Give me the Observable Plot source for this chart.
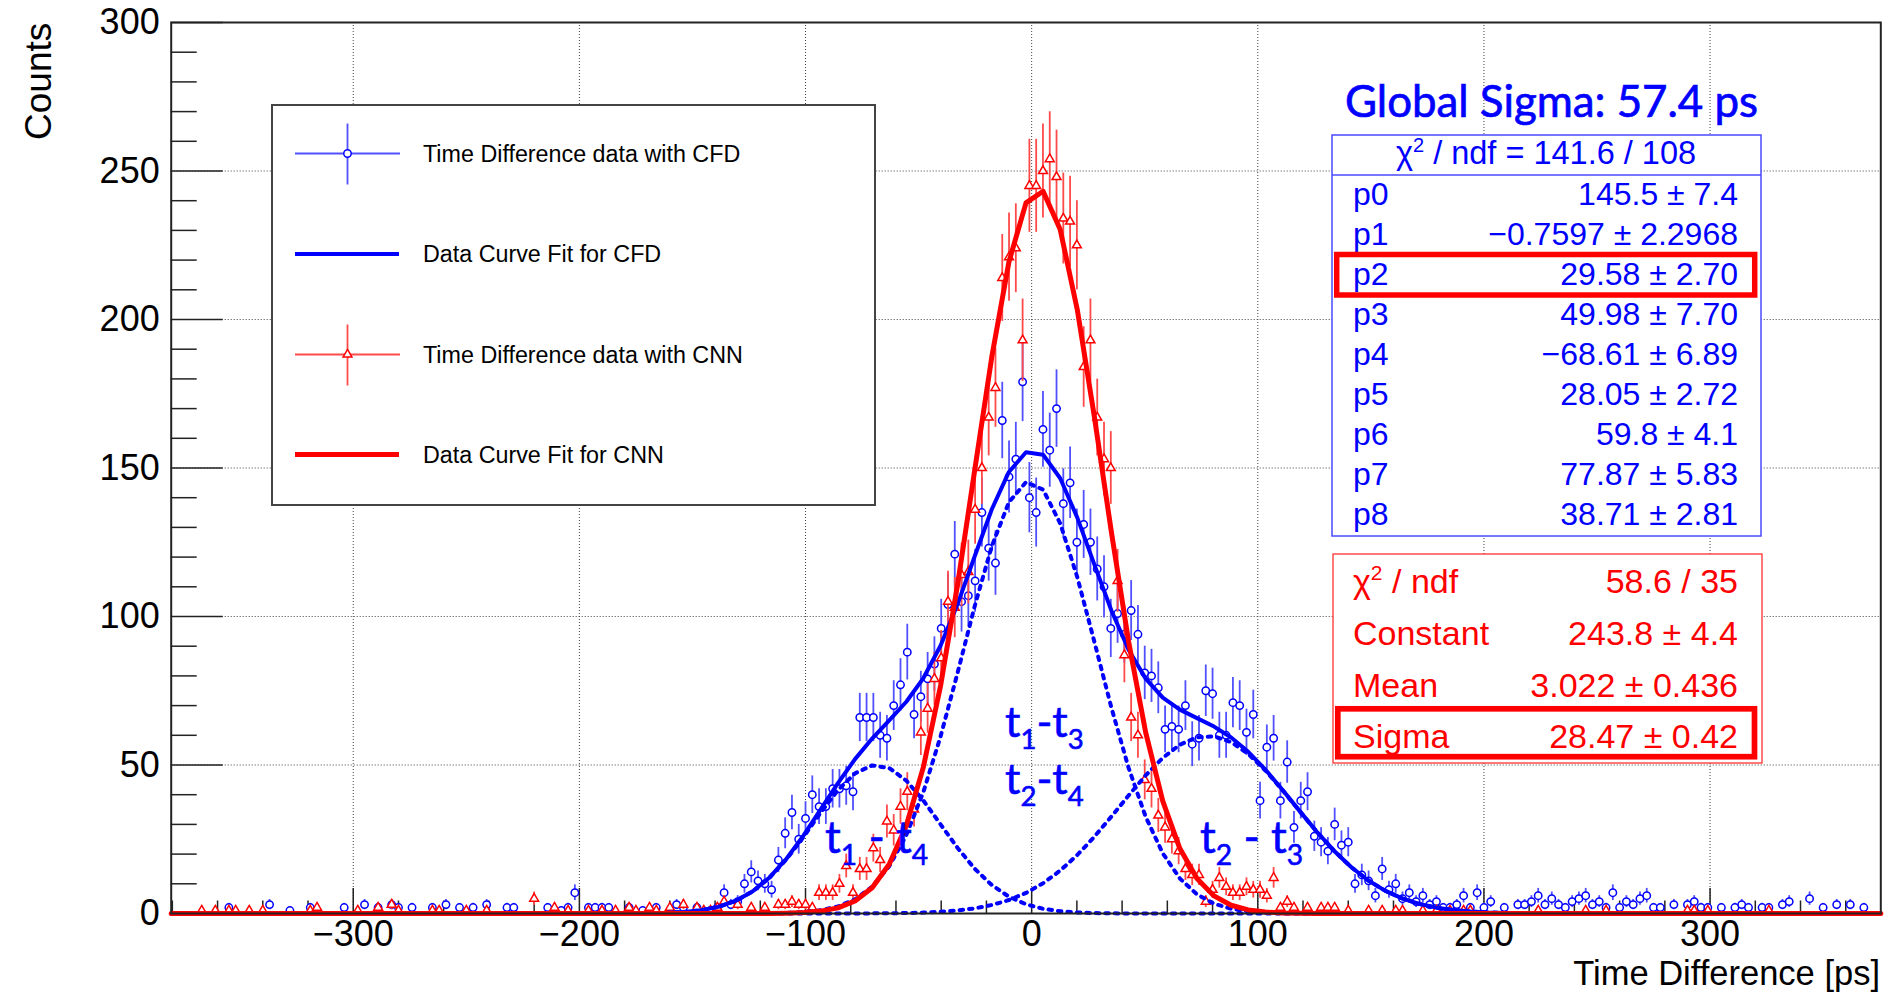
<!DOCTYPE html>
<html>
<head>
<meta charset="utf-8">
<script src="https://cdn.jsdelivr.net/npm/d3@7"></script>
<script src="https://cdn.jsdelivr.net/npm/@observablehq/plot@0.6"></script>
<style>
html, body { margin: 0; padding: 0; background: #fff; }
#chart { width: 1895px; height: 993px; overflow: hidden; }
</style>
</head>
<body>
<div id="chart"></div>
<script>
// ---------------- DATA ----------------
// histogram binning (3 ps bins, first bin centre -379 ps)
const binStart = -379;
const binWidth = 3;
const xRange = [-380.5, 375.5];

// Time Difference data with CFD (counts per bin)
const cfdCounts = [
  0,0,0,0,0,0,0,0,2,0,0,0,
  0,0,3,0,0,1,0,0,2,0,0,0,
  0,2,0,0,3,0,2,0,3,2,0,2,
  0,0,2,0,3,0,2,0,2,0,3,0,
  0,2,2,0,0,0,0,2,0,1,2,7,
  0,2,2,2,2,0,0,2,0,1,0,2,
  0,0,3,2,0,2,0,1,2,7,3,4,
  10,14,11,10,8,18,27,34,25,32,40,36,
  36,42,42,43,41,66,66,66,60,59,70,77,
  88,67,73,79,84,96,104,121,105,107,112,135,
  123,118,166,147,153,179,140,135,163,156,170,138,
  145,125,131,125,116,110,96,101,94,102,94,81,
  80,76,62,63,62,70,57,59,75,74,60,60,
  71,70,61,67,38,56,59,38,51,29,38,41,
  26,24,21,30,23,24,10,13,11,6,15,8,
  10,5,7,4,6,3,4,2,2,3,6,2,
  7,2,4,0,2,0,3,3,4,6,3,5,
  3,2,4,5,6,3,4,2,7,2,4,3,
  5,6,2,2,0,3,0,3,4,2,2,0,
  2,0,2,3,2,0,2,2,0,3,4,0,
  0,5,0,2,0,3,0,3,0,2,0,0
];

// Time Difference data with CNN (counts per bin)
const cnnCounts = [
  0,0,0,0,1,0,1,0,1,1,0,1,
  0,1,0,0,0,0,0,0,1,2,0,0,
  0,0,0,1,0,0,2,0,3,1,0,0,
  0,0,1,1,0,0,0,1,0,0,1,0,
  0,0,0,0,0,5,0,0,2,0,1,0,
  0,1,0,1,0,1,0,2,1,0,2,1,
  0,2,0,3,0,2,1,1,2,4,0,3,
  0,2,0,2,0,3,3,4,3,3,2,7,
  7,7,10,16,7,15,15,22,18,31,28,36,
  41,35,61,69,79,86,105,103,114,115,136,150,
  167,177,214,221,224,193,245,245,250,254,248,234,
  233,225,184,193,167,153,150,112,87,66,60,45,
  42,33,29,25,21,15,13,13,4,8,12,9,
  7,7,9,8,8,6,12,2,4,2,0,2,
  0,2,2,2,0,1,0,0,1,0,1,0,
  1,1,0,0,1,0,1,0,1,0,1,1,
  0,0,0,0,0,0,0,0,0,1,0,0,
  0,0,0,0,1,0,0,1,0,0,0,0,
  0,0,0,0,0,0,0,1,1,0,1,0,
  0,0,0,0,0,0,0,1,0,0,0,0,
  0,0,0,0,0,0,0,0,0,0,0,0
];

// fit parameters printed in the statistics boxes
const cfdFitParams = [145.5, -0.7597, 29.58, 49.98, -68.61, 28.05, 59.8, 77.87, 38.71];
const cnnFitParams = [243.8, 3.022, 28.47];

// axis ticks
const xMajorTicks = [-300, -200, -100, 0, 100, 200, 300];
const yMajorTicks = [0, 50, 100, 150, 200, 250, 300];
const xGrid = [-300, -200, -100, 0, 100, 200, 300];
const yGrid = [50, 100, 150, 200, 250];

// texts
const legendLabels = ["Time Difference data with CFD", "Data Curve Fit for CFD", "Time Difference data with CNN", "Data Curve Fit for CNN"];
const cfdStatNames = ["p0","p1","p2","p3","p4","p5","p6","p7","p8"];
const cfdStatValues = ["145.5 \u00b1 7.4","\u22120.7597 \u00b1 2.2968","29.58 \u00b1 2.70","49.98 \u00b1 7.70","\u221268.61 \u00b1 6.89","28.05 \u00b1 2.72","59.8 \u00b1 4.1","77.87 \u00b1 5.83","38.71 \u00b1 2.81"];
const cnnStatNames = ["Constant","Mean","Sigma"];
const cnnStatValues = ["243.8 \u00b1 4.4","3.022 \u00b1 0.436","28.47 \u00b1 0.42"];

// ---------------- BUILD ----------------
const W = 1895, H = 993, mL = 170.7, mR = 14.7, mT = 22, mB = 80;
const pxPerCount = (H - mT - mB) / 300;
const pxPerPs = (W - mL - mR) / (xRange[1] - xRange[0]);

const centers = cfdCounts.map((_, i) => binStart + i * binWidth);
const cfdPts = centers.map((x, i) => ({x, n: cfdCounts[i]})).filter(d => d.n > 0);
const cnnPts = centers.map((x, i) => ({x, n: cnnCounts[i]})).filter(d => d.n > 0);

const gauss = (x, A, m, s) => A * Math.exp(-0.5 * ((x - m) / s) ** 2);
const fitX = d3.range(101).map(k => xRange[0] + k * (xRange[1] - xRange[0]) / 100);
const P = cfdFitParams, Q = cnnFitParams;
const g1 = fitX.map(x => ({x, y: gauss(x, P[0], P[1], P[2])}));
const g2 = fitX.map(x => ({x, y: gauss(x, P[3], P[4], P[5])}));
const g3 = fitX.map(x => ({x, y: gauss(x, P[6], P[7], P[8])}));
const gSum = fitX.map((x, k) => ({x, y: g1[k].y + g2[k].y + g3[k].y}));
const gCnn = fitX.map(x => ({x, y: gauss(x, Q[0], Q[1], Q[2])}));

const xMinorTicks = d3.range(-380, 376, 20).filter(v => v % 100 !== 0);
const yMinorTicks = d3.range(0, 301, 10).filter(v => v % 50 !== 0);
const fmt = v => v < 0 ? "\u2212" + Math.abs(v) : String(v);

const BLUE = "#0000ff", BLUE_ERR = "#5050ff", RED = "#ff0000", RED_ERR = "#ff4a4a";
const DOTS = "3.5,6";

const svg = Plot.plot({
  width: W, height: H,
  marginLeft: mL, marginRight: mR, marginTop: mT, marginBottom: mB,
  x: {domain: xRange, axis: null},
  y: {domain: [0, 300], axis: null},
  style: {fontFamily: "'Liberation Sans', Arial, sans-serif", background: "white", color: "black", overflow: "visible"},
  marks: [
    // grid
    Plot.ruleX(xGrid, {x: d => d, stroke: "#444", strokeWidth: 1, strokeDasharray: "1,2"}),
    Plot.ruleY(yGrid, {y: d => d, stroke: "#444", strokeWidth: 1, strokeDasharray: "1,2"}),
    // ticks (inside the frame)
    Plot.ruleX(xMajorTicks, {x: d => d, y1: 0, y2: 25 / pxPerCount, stroke: "#222", strokeWidth: 1.5}),
    Plot.ruleX(xMinorTicks, {x: d => d, y1: 0, y2: 12.5 / pxPerCount, stroke: "#222", strokeWidth: 1.5}),
    Plot.ruleY(yMajorTicks, {y: d => d, x1: xRange[0], x2: xRange[0] + 52 / pxPerPs, stroke: "#222", strokeWidth: 1.5}),
    Plot.ruleY(yMinorTicks, {y: d => d, x1: xRange[0], x2: xRange[0] + 26 / pxPerPs, stroke: "#222", strokeWidth: 1.5}),
    // tick labels
    Plot.text(xMajorTicks, {x: d => d, y: 0, dy: 21, text: fmt, fontSize: 36, fill: "black"}),
    Plot.text(yMajorTicks, {x: xRange[0], y: d => d, dx: -11.5, text: fmt, textAnchor: "end", fontSize: 36, fill: "black"}),
    // CFD data
    Plot.ruleX(cfdPts, {x: "x", y1: d => d.n - Math.sqrt(d.n), y2: d => d.n + Math.sqrt(d.n), stroke: BLUE_ERR, strokeWidth: 1.8}),
    Plot.dot(cfdPts, {x: "x", y: "n", r: 3.7, stroke: BLUE, fill: "white", strokeWidth: 1.5}),
    // CNN data
    Plot.ruleX(cnnPts, {x: "x", y1: d => d.n - Math.sqrt(d.n), y2: d => d.n + Math.sqrt(d.n), stroke: RED_ERR, strokeWidth: 1.8}),
    Plot.dot(cnnPts, {x: "x", y: "n", r: 3.3, symbol: "triangle", stroke: RED, fill: "white", strokeWidth: 1.5}),
    // fit components (dotted)
    Plot.line(g1, {x: "x", y: "y", stroke: BLUE, strokeWidth: 4, strokeDasharray: DOTS}),
    Plot.line(g2, {x: "x", y: "y", stroke: BLUE, strokeWidth: 4, strokeDasharray: DOTS}),
    Plot.line(g3, {x: "x", y: "y", stroke: BLUE, strokeWidth: 4, strokeDasharray: DOTS}),
    // total fits
    Plot.line(gSum, {x: "x", y: "y", stroke: BLUE, strokeWidth: 4}),
    Plot.line(gCnn, {x: "x", y: "y", stroke: RED, strokeWidth: 5}),
    Plot.frame({stroke: "#222", strokeWidth: 2})
  ]
});
document.getElementById("chart").append(svg);

// ---------------- ANNOTATIONS ----------------
const s = d3.select(svg);
const ROOTFONT = "'Liberation Sans', Arial, sans-serif";
const CALI = "Lato, 'Open Sans', sans-serif";
const txt = (g, x, y, size, fill, anchor, font) => g.append("text").attr("x", x).attr("y", y)
  .attr("font-family", font || ROOTFONT).attr("font-size", size).attr("fill", fill)
  .attr("text-anchor", anchor || "start");

// axis titles
s.append("text").attr("transform", "translate(51,22.7) rotate(-90)").attr("text-anchor", "end")
  .attr("font-family", ROOTFONT).attr("font-size", 37).attr("fill", "black").text("Counts");
txt(s, 1880, 985, 34.5, "black", "end").text("Time Difference [ps]");

// legend
const lg = s.append("g");
lg.append("rect").attr("x", 272).attr("y", 105).attr("width", 603).attr("height", 400)
  .attr("fill", "white").attr("stroke", "#444").attr("stroke-width", 2);
const rowsY = [153.5, 254, 354.5, 454.5];
legendLabels.forEach((t, i) => txt(lg, 423, rowsY[i] + 8, 23.3, "black", "start").text(t));
// CFD data symbol
lg.append("line").attr("x1", 295).attr("x2", 400).attr("y1", rowsY[0]).attr("y2", rowsY[0]).attr("stroke", BLUE_ERR).attr("stroke-width", 1.8);
lg.append("line").attr("x1", 347.5).attr("x2", 347.5).attr("y1", rowsY[0] - 30).attr("y2", rowsY[0] + 31).attr("stroke", BLUE_ERR).attr("stroke-width", 1.8);
lg.append("circle").attr("cx", 347.5).attr("cy", rowsY[0]).attr("r", 3.7).attr("fill", "white").attr("stroke", BLUE).attr("stroke-width", 1.5);
// CFD fit symbol
lg.append("line").attr("x1", 295).attr("x2", 399).attr("y1", rowsY[1]).attr("y2", rowsY[1]).attr("stroke", BLUE).attr("stroke-width", 4);
// CNN data symbol
lg.append("line").attr("x1", 295).attr("x2", 400).attr("y1", rowsY[2]).attr("y2", rowsY[2]).attr("stroke", RED_ERR).attr("stroke-width", 1.8);
lg.append("line").attr("x1", 347.5).attr("x2", 347.5).attr("y1", rowsY[2] - 30).attr("y2", rowsY[2] + 31).attr("stroke", RED_ERR).attr("stroke-width", 1.8);
lg.append("path").attr("d", d3.symbol(d3.symbolTriangle, 34)()).attr("transform", `translate(347.5,${rowsY[2]})`)
  .attr("fill", "white").attr("stroke", RED).attr("stroke-width", 1.5);
// CNN fit symbol
lg.append("line").attr("x1", 295).attr("x2", 399).attr("y1", rowsY[3]).attr("y2", rowsY[3]).attr("stroke", RED).attr("stroke-width", 5);

// Global sigma title
txt(s, 1345, 116.5, 44, BLUE, "start", CALI)
  .attr("stroke", BLUE).attr("stroke-width", 0.7)
  .attr("textLength", 413).attr("lengthAdjust", "spacingAndGlyphs").text("Global Sigma: 57.4 ps");

// CFD stats box
const sb = s.append("g");
sb.append("rect").attr("x", 1332).attr("y", 135).attr("width", 429).attr("height", 401)
  .attr("fill", "white").attr("stroke", "#4a4aff").attr("stroke-width", 1.5);
sb.append("line").attr("x1", 1332).attr("x2", 1761).attr("y1", 175).attr("y2", 175).attr("stroke", "#4a4aff").attr("stroke-width", 1.5);
const hdr = txt(sb, 1546, 164, 32.5, BLUE, "middle");
hdr.append("tspan").text("\u03c7");
hdr.append("tspan").attr("dy", -12).attr("font-size", 20).text("2");
hdr.append("tspan").attr("dy", 12).text(" / ndf = 141.6 / 108");
cfdStatNames.forEach((n, i) => {
  const y = 205 + i * 40;
  txt(sb, 1353, y, 32, BLUE, "start").text(n);
  txt(sb, 1738, y, 32, BLUE, "end").text(cfdStatValues[i]);
});
sb.append("rect").attr("x", 1336.7).attr("y", 254.5).attr("width", 418).attr("height", 40.5)
  .attr("fill", "none").attr("stroke", RED).attr("stroke-width", 5.5);

// CNN stats box
const rb = s.append("g");
rb.append("rect").attr("x", 1333).attr("y", 554).attr("width", 429).attr("height", 209)
  .attr("fill", "white").attr("stroke", "#ff3030").attr("stroke-width", 1.3);
const chi = txt(rb, 1353, 593, 34, RED, "start");
chi.append("tspan").text("\u03c7");
chi.append("tspan").attr("dy", -13).attr("font-size", 21).text("2");
chi.append("tspan").attr("dy", 13).text(" / ndf");
txt(rb, 1738, 593, 34, RED, "end").text("58.6 / 35");
cnnStatNames.forEach((n, i) => {
  const y = 645 + i * 51.7;
  txt(rb, 1353, y, 34, RED, "start").text(n);
  txt(rb, 1738, y, 34, RED, "end").text(cnnStatValues[i]);
});
rb.append("rect").attr("x", 1337.8).attr("y", 708.8).attr("width", 416.7).attr("height", 47.9)
  .attr("fill", "none").attr("stroke", RED).attr("stroke-width", 5.7);

// component labels
function tLabel(x, y, a, sep, b, size) {
  const t = txt(s, x, y, size, BLUE, "start", CALI).attr("stroke", BLUE).attr("stroke-width", 0.6);
  t.append("tspan").text("t");
  t.append("tspan").attr("dy", size * 0.27).attr("font-size", size * 0.64).text(a);
  t.append("tspan").attr("dy", -size * 0.27).text(sep + "t");
  t.append("tspan").attr("dy", size * 0.27).attr("font-size", size * 0.64).text(b);
}
tLabel(1005, 737, "1", "-", "3", 43);
tLabel(1005, 794, "2", "-", "4", 43);
tLabel(825, 853, "1", " - ", "4", 44);
tLabel(1200, 853, "2", " - ", "3", 44);
</script>
</body>
</html>
